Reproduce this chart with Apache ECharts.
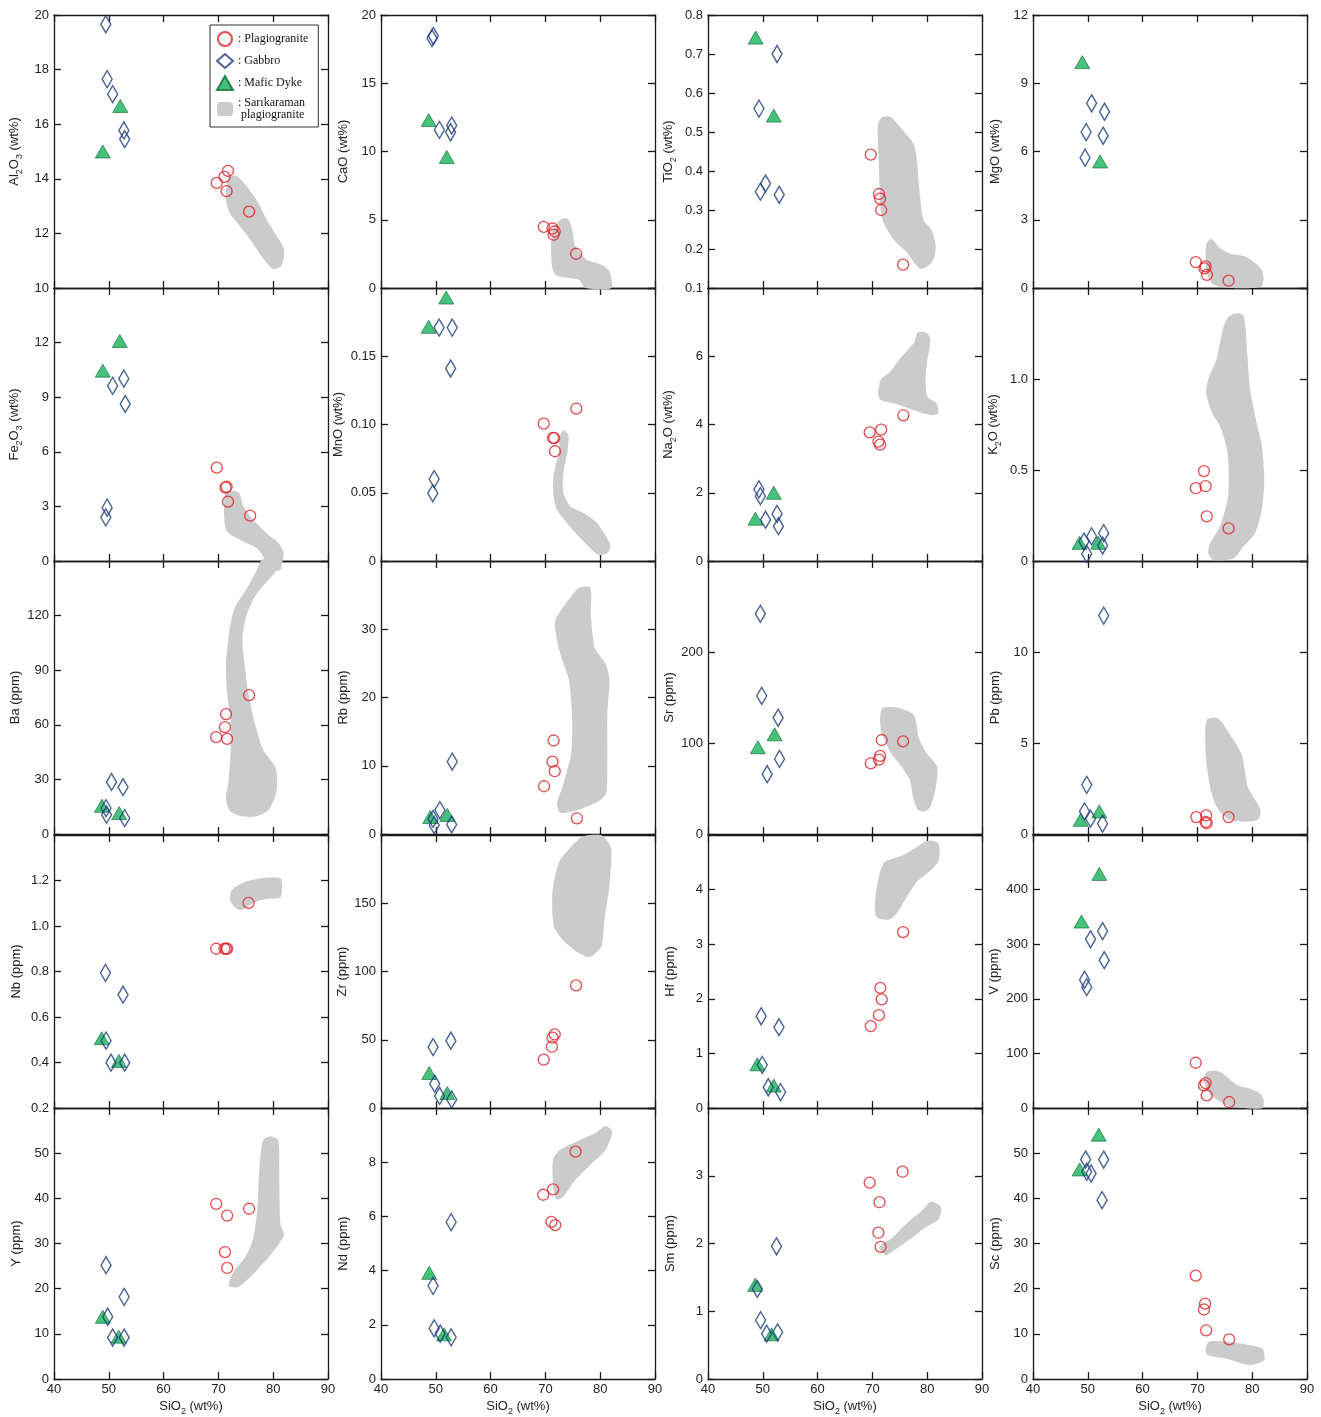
<!DOCTYPE html>
<html><head><meta charset="utf-8">
<script src="https://cdn.jsdelivr.net/npm/echarts/dist/echarts.min.js"></script>
<style>html,body{margin:0;padding:0;background:#fff;}#c{width:1321px;height:1417px;}</style>
</head><body><div id="c"></div>
<script>
// ---------- DATA (SiO2 wt% vs element) ----------
const SIO2_RANGE = [40, 90, 10];
const GROUPS = ['Plagiogranite', 'Gabbro', 'Mafic Dyke', 'Sarıkaraman plagiogranite'];

const Al2O3 = { range: [10, 20, 2],
  plag: [[69.7,13.85],[71.1,14.07],[71.75,14.29],[71.5,13.55],[75.6,12.8]],
  gabbro: [[49.45,19.66],[49.7,17.65],[50.7,17.1],[52.75,15.77],[52.9,15.45]],
  dyke: [[48.9,15.0],[52.1,16.67]],
  field: [[71.4,13.6],[71.9,14.05],[73.3,14.1],[75.2,13.72],[77.3,13.11],[78.8,12.5],[80.7,11.89],[81.8,11.52],[82.0,11.16],[81.4,10.79],[80.0,10.7],[79.1,10.85],[77.9,11.16],[75.8,11.77],[74.0,12.25],[72.1,12.74],[71.4,13.17]] };
const CaO = { range: [0, 20, 5],
  plag: [[69.7,4.48],[71.3,4.36],[71.7,4.14],[71.5,3.9],[75.6,2.51]],
  gabbro: [[49.56,18.46],[49.3,18.3],[50.66,11.58],[52.9,11.9],[52.7,11.41]],
  dyke: [[48.7,12.3],[52.0,9.6]],
  field: [[71.2,4.02],[72.7,5.0],[74.1,5.07],[74.9,4.27],[75.5,3.04],[77.6,2.07],[80.3,1.7],[81.7,1.21],[82.05,0],[77.3,0],[76.1,0.61],[72.1,0.9],[71.2,1.58]] };
const TiO2 = { range: [0.1, 0.8, 0.1],
  plag: [[69.7,0.442],[71.2,0.341],[71.4,0.329],[71.6,0.30],[75.6,0.16]],
  gabbro: [[52.6,0.70],[49.3,0.56],[50.5,0.368],[49.56,0.347],[53.0,0.339]],
  dyke: [[48.7,0.742],[52.0,0.542]],
  field: [[71.0,0.52],[71.8,0.538],[73.3,0.539],[75.2,0.51],[77.7,0.463],[78.5,0.36],[79.3,0.275],[80.8,0.249],[81.55,0.207],[81.1,0.172],[80.0,0.155],[78.8,0.149],[77.9,0.16],[76.4,0.19],[73.9,0.224],[72.1,0.266],[71.5,0.30],[71.2,0.411]] };
const MgO = { range: [0, 12, 3],
  plag: [[69.7,1.14],[71.5,0.95],[71.3,0.86],[71.75,0.58],[75.7,0.32]],
  gabbro: [[50.7,8.12],[53.05,7.75],[49.7,6.85],[52.8,6.69],[49.5,5.73]],
  dyke: [[49.0,9.93],[52.25,5.56]],
  field: [[71.7,1.97],[72.6,2.15],[74.1,1.76],[76.0,1.51],[78.7,1.39],[80.5,1.1],[81.75,0.8],[82.05,0.36],[81.6,0.04],[76.0,0],[72.9,0.14],[71.7,0.66],[71.5,1.54]] };
const Fe2O3 = { range: [0, 15, 3],
  plag: [[69.7,5.13],[71.3,4.03],[71.5,4.08],[71.75,3.26],[75.8,2.49]],
  gabbro: [[50.7,9.62],[52.74,10.02],[53.0,8.63],[49.7,2.93],[49.45,2.4]],
  dyke: [[48.9,10.46],[52.0,12.09]],
  field: [[71.2,3.72],[72.7,3.86],[73.8,3.72],[74.6,2.98],[76.4,2.25],[78.8,1.52],[81.0,0.97],[81.9,0.42],[81.6,-0.13],[81.3,-0.5],[78.2,-0.5],[78.5,0.05],[77.0,0.7],[74.0,1.15],[71.4,1.7]] };
const MnO = { range: [0, 0.2, 0.05],
  plag: [[69.7,0.1006],[75.65,0.1117],[71.4,0.0902],[71.6,0.09],[71.75,0.0804]],
  gabbro: [[50.6,0.171],[53.0,0.171],[52.7,0.141],[49.7,0.06],[49.45,0.0496]],
  dyke: [[51.9,0.193],[48.7,0.1716]],
  field: [[73.3,0.0957],[74.2,0.0922],[74.0,0.0796],[73.3,0.0649],[73.3,0.05],[74.55,0.0402],[77.0,0.0352],[79.4,0.0279],[81.1,0.018],[81.9,0.0106],[81.3,0.0057],[79.7,0.0044],[78.2,0.0094],[76.1,0.018],[73.9,0.0279],[72.1,0.0377],[71.4,0.05],[71.5,0.0624],[72.4,0.0796],[72.7,0.0922]] };
const Na2O = { range: [0, 8, 2],
  plag: [[69.5,3.77],[71.6,3.85],[71.1,3.5],[71.4,3.41],[75.65,4.27]],
  gabbro: [[49.3,2.1],[49.56,1.9],[50.5,1.21],[52.6,1.38],[52.85,1.02]],
  dyke: [[52.0,2.0],[48.65,1.24]],
  field: [[71.2,5.07],[71.5,5.31],[73.3,5.56],[75.2,5.96],[77.6,6.4],[78.3,6.7],[79.7,6.7],[80.6,6.5],[80.0,5.86],[79.7,5.36],[80.0,4.82],[81.7,4.62],[82.0,4.33],[80.6,4.28],[77.6,4.42],[73.9,4.62],[71.5,4.72],[71.0,4.97]] };
const K2O = { range: [0, 1.5, 0.5],
  plag: [[71.2,0.494],[69.7,0.40],[71.5,0.411],[71.7,0.245],[75.7,0.179]],
  gabbro: [[52.9,0.153],[50.7,0.135],[49.3,0.107],[52.7,0.085],[49.8,0.039]],
  dyke: [[48.5,0.10],[51.9,0.10]],
  field: [[76.9,1.36],[78.4,1.35],[79.0,1.186],[79.6,0.946],[80.8,0.762],[81.75,0.633],[82.2,0.448],[81.75,0.282],[80.5,0.153],[78.4,0.079],[76.6,0.015],[72.9,0.006],[72.0,0.042],[72.3,0.098],[74.1,0.19],[75.6,0.356],[75.5,0.596],[74.1,0.743],[72.6,0.817],[71.6,0.928],[72.0,1.0],[73.5,1.11],[74.7,1.28],[75.65,1.34]] };
const Ba = { range: [0, 150, 30],
  plag: [[75.6,76.3],[71.4,65.9],[71.2,58.7],[69.6,53.2],[71.6,52.3]],
  gabbro: [[50.5,28.6],[52.6,25.7],[49.5,14.2],[49.6,10.6],[52.9,8.7]],
  dyke: [[48.75,15.5],[51.9,11.5]],
  field: [[78.05,151],[81.6,151],[80.0,142.6],[76.9,131.7],[75.2,120.8],[74.4,108],[74.7,95.3],[75.3,80.7],[76.1,67.9],[77.0,57],[78.2,46.1],[80.0,38.8],[80.6,35.2],[80.6,23.3],[79.2,13.3],[76.9,9.7],[74.4,9.7],[72.2,12.4],[71.4,18.8],[71.8,27.9],[72.2,44.3],[72.2,62.5],[71.6,77],[71.4,93.4],[72.0,111.7],[73.0,124.4],[74.9,133.5],[76.9,144.4]] };
const Rb = { range: [0, 40, 10],
  plag: [[71.5,13.7],[71.3,10.6],[71.7,9.2],[69.75,7.0],[75.75,2.3]],
  gabbro: [[53.0,10.6],[50.75,3.5],[49.5,2.2],[49.7,1.3],[52.9,1.4]],
  dyke: [[49.0,2.5],[52.1,2.8]],
  field: [[76.2,36.1],[78.2,36.1],[78.3,32.2],[79.0,27.3],[81.0,24.9],[81.7,22.5],[81.3,17.6],[81.3,11.8],[81.1,6.0],[79.7,4.8],[75.8,3.5],[72.7,3.1],[72.1,4.5],[73.1,6.9],[74.7,11.8],[74.9,16.7],[74.3,22.5],[72.7,26.4],[71.7,30.5],[72.1,31.9],[75.0,35.1]] };
const Sr = { range: [0, 300, 100],
  plag: [[71.7,103.3],[75.6,101.8],[71.4,85.8],[71.2,81.8],[69.7,77.7]],
  gabbro: [[49.55,242],[49.8,151.8],[52.8,127.7],[53.05,82.5],[50.8,65.7]],
  dyke: [[49.1,95.3],[52.15,109.5]],
  field: [[71.8,138],[74.5,139],[77.6,130.7],[78.4,107],[79.9,88.7],[81.8,74.1],[81.6,52.2],[80.6,30.3],[79.5,24.8],[78.3,26.6],[77.4,41.2],[76.8,59.5],[75.3,74.1],[73.4,88.7],[71.7,110.6],[71.4,125.2]] };
const Pb = { range: [0, 15, 5],
  plag: [[69.8,0.93],[71.6,1.02],[71.5,0.66],[71.7,0.6],[75.7,0.93]],
  gabbro: [[52.9,12.0],[49.8,2.7],[49.4,1.24],[50.5,0.84],[52.7,0.57]],
  dyke: [[48.7,0.78],[52.1,1.24]],
  field: [[71.7,6.26],[73.8,6.35],[75.8,5.53],[78.1,4.34],[79.2,2.6],[81.5,1.33],[81.0,0.78],[78.8,0.69],[75.8,0.78],[73.5,1.5],[72.3,2.6],[71.5,4.43]] };
const Nb = { range: [0.2, 1.4, 0.2],
  plag: [[75.5,1.102],[69.6,0.90],[71.1,0.90],[71.4,0.90],[71.6,0.90]],
  gabbro: [[49.4,0.794],[52.6,0.698],[49.5,0.496],[50.4,0.399],[52.9,0.399]],
  dyke: [[48.7,0.507],[51.85,0.407]],
  field: [[72.5,1.16],[75.6,1.20],[81.3,1.21],[81.6,1.153],[81.2,1.124],[79.1,1.12],[77.2,1.11],[75.6,1.09],[74.1,1.07],[72.9,1.085],[72.1,1.117]] };
const Zr = { range: [0, 200, 50],
  plag: [[75.6,89.8],[71.7,53.9],[71.3,51.5],[71.2,44.9],[69.7,35.4]],
  gabbro: [[52.75,49.3],[49.5,44.6],[49.8,17.8],[50.7,8.8],[52.9,6.3]],
  dyke: [[48.8,25.6],[52.1,11.0]],
  field: [[77.3,199.5],[80.4,199.5],[82.0,189.8],[81.6,160.5],[80.8,138.5],[80.3,119],[79.3,114],[77.9,110.5],[75.4,115.4],[73.0,124],[71.5,133.7],[71.3,159.3],[72.5,180],[74.6,191],[76.5,198.3]] };
const Hf = { range: [0, 5, 1],
  plag: [[75.6,3.22],[71.45,2.2],[71.7,1.99],[71.2,1.70],[69.7,1.50]],
  gabbro: [[49.7,1.68],[52.95,1.48],[49.9,0.79],[51.0,0.38],[53.25,0.29]],
  dyke: [[49.0,0.80],[52.0,0.41]],
  field: [[80.6,4.9],[82.1,4.84],[82.1,4.53],[80.6,4.35],[78.3,4.16],[76.8,3.95],[75.3,3.7],[74.1,3.52],[73.0,3.45],[70.8,3.49],[70.5,3.77],[71.1,4.2],[72.2,4.5],[75.3,4.62],[77.5,4.74],[79.5,4.87]] };
const V = { range: [0, 500, 100],
  plag: [[69.7,82.9],[71.5,45.7],[71.2,41.5],[71.7,23.2],[75.8,11]],
  gabbro: [[52.7,323.8],[50.5,309],[53.0,270.7],[49.4,234.8],[49.8,221.3]],
  dyke: [[52.1,428.7],[48.85,341.5]],
  field: [[71.9,67],[74.2,65.9],[77.3,41.5],[79.6,35.4],[81.5,26.2],[82.1,14],[81.9,0],[79.6,-1],[76.5,1.8],[74.2,11],[71.9,29.3],[71.2,53.7]] };
const Y = { range: [0, 60, 10],
  plag: [[69.6,38.8],[71.6,36.2],[75.6,37.7],[71.2,28.1],[71.6,24.6]],
  gabbro: [[49.5,25.2],[52.8,18.2],[49.8,13.8],[50.7,9.2],[52.8,9.2]],
  dyke: [[48.9,13.8],[51.8,9.4]],
  field: [[78.2,52.9],[79.4,53.7],[80.9,52.9],[81.1,46.3],[81.3,34.2],[82.0,32.0],[80.3,28.7],[78.0,25.4],[75.8,22.6],[73.6,20.4],[71.9,20.6],[72.7,23.7],[74.9,27.0],[76.3,30.9],[77.1,37.5],[77.4,45.2],[77.8,50.7]] };
const Nd = { range: [0, 10, 2],
  plag: [[75.5,8.39],[71.4,7.0],[69.6,6.8],[71.1,5.8],[71.8,5.68]],
  gabbro: [[52.8,5.79],[49.5,3.44],[49.7,1.87],[50.8,1.68],[52.8,1.54]],
  dyke: [[48.8,3.92],[51.5,1.65]],
  field: [[71.4,8.1],[72.7,8.46],[76.4,8.83],[79.1,9.08],[81.0,9.34],[82.2,9.12],[81.0,8.46],[78.2,7.9],[75.5,7.36],[73.3,6.74],[72.0,6.63],[71.4,7.18]] };
const Sm = { range: [0, 4, 1],
  plag: [[69.5,2.9],[75.5,3.06],[71.3,2.61],[71.1,2.16],[71.5,1.95]],
  gabbro: [[52.5,1.96],[49.0,1.33],[49.6,0.87],[50.7,0.67],[52.7,0.69]],
  dyke: [[48.6,1.39],[51.6,0.66]],
  field: [[71.2,1.95],[73.4,2.07],[76.1,2.29],[79.2,2.5],[80.7,2.62],[82.5,2.54],[82.1,2.36],[79.7,2.24],[77.0,2.07],[74.3,1.92],[72.4,1.83]] };
const Sc = { range: [0, 60, 10],
  plag: [[69.7,22.9],[71.4,16.7],[71.2,15.4],[71.6,10.8],[75.8,8.8]],
  gabbro: [[49.6,48.6],[52.9,48.6],[49.8,45.9],[50.6,45.5],[52.6,39.6]],
  dyke: [[52.0,54.1],[48.5,46.4]],
  field: [[72.3,8.4],[77.8,7.9],[81.8,6.8],[82.2,4.2],[79.6,3.1],[75.0,4.6],[71.9,5.3],[71.5,6.8]] };

// y-axis titles ({s|..} = subscript) and tick label decimals
const PANELS = [
  [Al2O3,'Al{s|2}O{s|3} (wt%)',0],[CaO,'CaO (wt%)',0],[TiO2,'TiO{s|2} (wt%)',1],[MgO,'MgO (wt%)',0],
  [Fe2O3,'Fe{s|2}O{s|3} (wt%)',0],[MnO,'MnO (wt%)',2],[Na2O,'Na{s|2}O (wt%)',0],[K2O,'K{s|2}O (wt%)',1],
  [Ba,'Ba (ppm)',0],[Rb,'Rb (ppm)',0],[Sr,'Sr (ppm)',0],[Pb,'Pb (ppm)',0],
  [Nb,'Nb (ppm)',1],[Zr,'Zr (ppm)',0],[Hf,'Hf (ppm)',0],[V,'V (ppm)',0],
  [Y,'Y (ppm)',0],[Nd,'Nd (ppm)',0],[Sm,'Sm (ppm)',0],[Sc,'Sc (ppm)',0]
];

// ---------- LAYOUT / STYLE ----------
const COLS = [54, 381, 708, 1033];
const ROWS = [15, 288, 561, 835, 1108];
const W = 274, H = 273;
const FONT = 'Liberation Sans, Arial, Helvetica, sans-serif';
const AX = '#1a1a1a';
const RICH = { s: { fontSize: 9, fontFamily: FONT, color: '#222', verticalAlign: 'bottom', lineHeight: 19 } };
const FIELD_COLOR = '#cbcbcb';

const grids = [], xAxes = [], yAxes = [], series = [];
const axisLine = { onZero: false, lineStyle: { color: AX, width: 1.3 } };
const axisTick = { inside: true, length: 7, lineStyle: { color: AX, width: 1.3 } };

PANELS.forEach(([d, title, dec], i) => {
  const r = Math.floor(i / 4), c = i % 4;
  grids.push({ left: COLS[c], top: ROWS[r], width: W, height: H });
  const bottomRow = r === 4;
  xAxes.push({ gridIndex: i, type: 'value', position: 'bottom', min: SIO2_RANGE[0], max: SIO2_RANGE[1], interval: SIO2_RANGE[2],
    axisLine, axisTick, splitLine: { show: false },
    axisLabel: { show: bottomRow, fontSize: 13, color: '#222', fontFamily: FONT, margin: 4 },
    name: bottomRow ? 'SiO{s|2} (wt%)' : '', nameLocation: 'middle', nameGap: 17,
    nameTextStyle: { fontSize: 13, color: '#222', fontFamily: FONT, lineHeight: 16, rich: RICH } });
  xAxes.push({ gridIndex: i, type: 'value', position: 'top', min: SIO2_RANGE[0], max: SIO2_RANGE[1], interval: SIO2_RANGE[2],
    axisLine, axisTick, splitLine: { show: false }, axisLabel: { show: false } });
  const [ymin, ymax, yint] = d.range;
  yAxes.push({ gridIndex: i, type: 'value', position: 'left', min: ymin, max: ymax, interval: yint,
    axisLine, axisTick, splitLine: { show: false },
    axisLabel: { fontSize: 13, color: '#222', fontFamily: FONT, margin: 5, showMaxLabel: r === 0, showMinLabel: true,
      formatter: v => (Math.abs(v) < 1e-9 ? '0' : v.toFixed(dec)) },
    name: title, nameLocation: 'middle', nameGap: 30,
    nameTextStyle: { fontSize: 13, color: '#222', fontFamily: FONT, lineHeight: 16, rich: RICH } });
  yAxes.push({ gridIndex: i, type: 'value', position: 'right', min: ymin, max: ymax, interval: yint,
    axisLine, axisTick, splitLine: { show: false }, axisLabel: { show: false } });

  const poly = d.field;
  series.push({ type: 'custom', name: GROUPS[3], xAxisIndex: 2 * i, yAxisIndex: 2 * i, data: poly, clip: false, z: 1, silent: true,
    itemStyle: { color: FIELD_COLOR }, encode: { x: 0, y: 1 },
    renderItem: (params, api) => {
      if (params.dataIndex !== 0) return null;
      return { type: 'polygon', shape: { points: poly.map(q => api.coord(q)), smooth: 0.25 }, style: { fill: FIELD_COLOR } };
    } });
  series.push({ type: 'scatter', name: GROUPS[0], xAxisIndex: 2 * i, yAxisIndex: 2 * i, data: d.plag, clip: false, z: 4,
    symbol: 'circle', symbolSize: 11, itemStyle: { color: 'rgba(255,255,255,0)', borderColor: '#dc1f26', borderWidth: 1.3 } });
  series.push({ type: 'scatter', name: GROUPS[1], xAxisIndex: 2 * i, yAxisIndex: 2 * i, data: d.gabbro, clip: false, z: 3,
    symbol: 'diamond', symbolSize: [10, 17], itemStyle: { color: 'rgba(255,255,255,0)', borderColor: '#1d3c7c', borderWidth: 1.5 } });
  series.push({ type: 'scatter', name: GROUPS[2], xAxisIndex: 2 * i, yAxisIndex: 2 * i, data: d.dyke, clip: false, z: 2,
    symbol: 'triangle', symbolSize: [15, 13], itemStyle: { color: '#18b35a', borderColor: '#0c6b35', borderWidth: 0.8 } });
});

const chart = echarts.init(document.getElementById('c'), null, { renderer: 'canvas' });
chart.setOption({
  animation: false,
  backgroundColor: '#fff',
  grid: grids, xAxis: xAxes, yAxis: yAxes, series,
  legend: {
    left: 210, top: 25, orient: 'vertical', selectedMode: false,
    itemWidth: 16, itemHeight: 14, itemGap: 6, padding: [6, 10, 6, 6],
    borderColor: '#333', borderWidth: 1, backgroundColor: '#fff',
    textStyle: { fontFamily: 'Liberation Serif, Times New Roman, serif', fontSize: 12, color: '#111', lineHeight: 12 },
    data: [
      { name: GROUPS[0] }, { name: GROUPS[1] }, { name: GROUPS[2] },
      { name: GROUPS[3], icon: 'roundRect', itemStyle: { color: FIELD_COLOR } }
    ],
    formatter: n => n === GROUPS[3] ? ': Sarıkaraman\n plagiogranite' : ': ' + n
  }
});
</script>
</body></html>
